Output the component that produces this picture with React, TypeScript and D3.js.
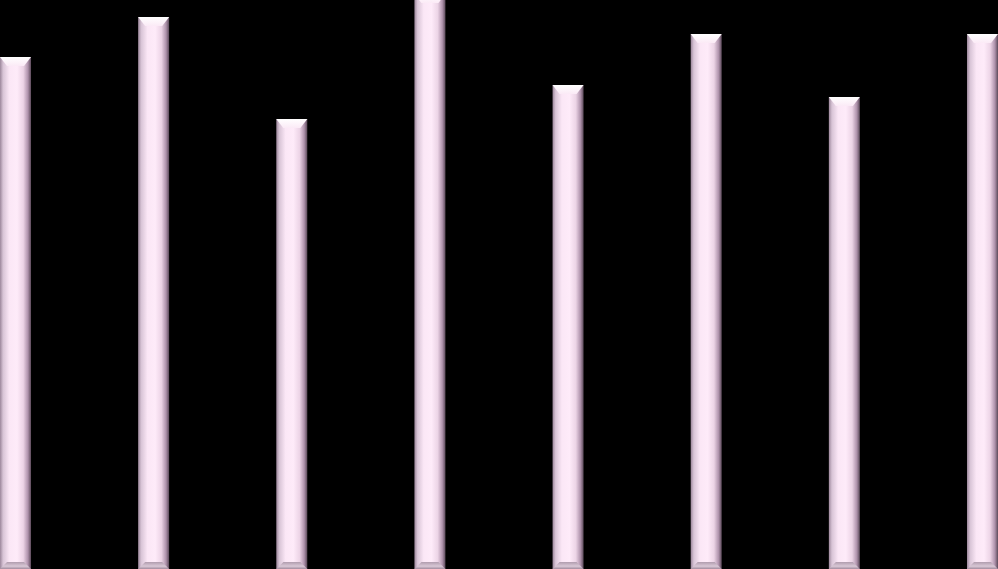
import * as d3 from 'd3';

const WIDTH = 998;
const HEIGHT = 569;

// categories and bar values (arbitrary units)
const categories = ['A', 'B', 'C', 'D', 'E', 'F', 'G', 'H'];
const values = [512, 552, 450, 575, 484, 535, 472, 535];

const BEVEL = 7;

export default function App() {
  const xScale = d3.scaleBand<string>()
    .domain(categories)
    .range([0, WIDTH])
    .paddingInner(0.7755)
    .paddingOuter(0);

  const yScale = d3.scaleLinear()
    .domain([0, 569])
    .range([HEIGHT, 0]);

  const w = xScale.bandwidth();
  const bottom = yScale(0);

  return (
    <svg
      width={WIDTH}
      height={HEIGHT}
      style={{ position: 'fixed', left: 0, top: 0, display: 'block' }}
    >
      <defs>
        <linearGradient id="bar-body" x1="0" x2="1" y1="0" y2="0">
          <stop offset="0%" stopColor="#9c879b" />
          <stop offset="10%" stopColor="#d8c4d6" />
          <stop offset="30%" stopColor="#fbe7f6" />
          <stop offset="55%" stopColor="#feebf9" />
          <stop offset="75%" stopColor="#ecd4e6" />
          <stop offset="90%" stopColor="#ae92ab" />
          <stop offset="100%" stopColor="#5c4a5a" />
        </linearGradient>
        <linearGradient id="bar-top" x1="0" x2="0" y1="0" y2="1">
          <stop offset="0%" stopColor="#ffffff" />
          <stop offset="100%" stopColor="#fbeaf6" />
        </linearGradient>
        <linearGradient id="bar-bottom" x1="0" x2="0" y1="0" y2="1">
          <stop offset="0%" stopColor="#b09cae" />
          <stop offset="60%" stopColor="#d9c8d6" />
          <stop offset="100%" stopColor="#a08c9e" />
        </linearGradient>
      </defs>
      <rect width={WIDTH} height={HEIGHT} fill="#000000" />
      {categories.map((c, i) => {
        const x = xScale(c) ?? 0;
        const y = yScale(values[i]);
        const top = [
          [x, y], [x + w, y], [x + w - BEVEL, y + BEVEL + 2], [x + BEVEL, y + BEVEL + 2],
        ];
        const bot = [
          [x, bottom], [x + w, bottom], [x + w - BEVEL, bottom - BEVEL], [x + BEVEL, bottom - BEVEL],
        ];
        return (
          <g key={c}>
            <rect x={x} y={y} width={w} height={bottom - y} fill="url(#bar-body)" />
            <polygon points={top.map((p) => p.join(',')).join(' ')} fill="url(#bar-top)" />
            <polygon points={bot.map((p) => p.join(',')).join(' ')} fill="url(#bar-bottom)" />
          </g>
        );
      })}
    </svg>
  );
}
